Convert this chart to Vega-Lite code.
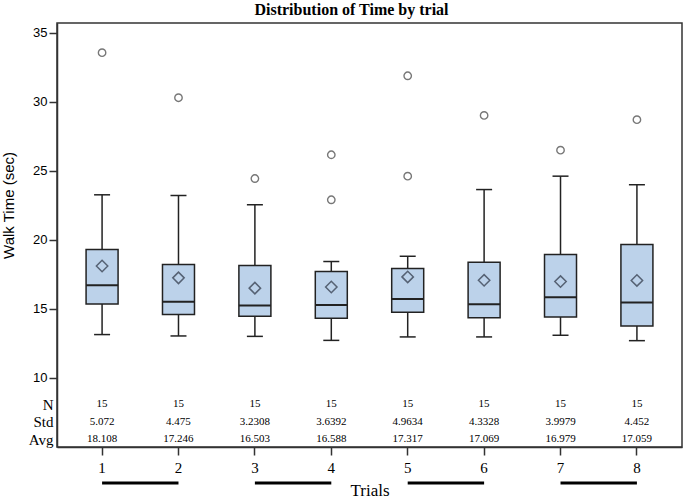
{
  "$schema": "https://vega.github.io/schema/vega-lite/v6.json",
  "autosize": {"type": "none"},
  "width": 625,
  "height": 424,
  "padding": {"left": 57, "top": 23, "right": 3, "bottom": 53},
  "background": "white",
  "title": {
    "text": "Distribution of Time by trial",
    "font": "Liberation Serif",
    "fontSize": 16,
    "fontWeight": "bold",
    "color": "#000",
    "anchor": "middle",
    "frame": "group",
    "baseline": "alphabetic",
    "offset": 11,
    "dy": 19,
    "dx": -18
  },
  "config": {
    "view": {"stroke": "#333", "strokeWidth": 1.5},
    "axis": {"domainColor": "#333", "domainWidth": 1.5, "tickColor": "#333", "tickWidth": 1.5, "grid": false, "labelColor": "#000", "titleColor": "#000"}
  },
  "datasets": {
    "stats": [
      {"trial": "1", "lower": 13.14, "q1": 15.36, "median": 16.71, "q3": 19.30, "upper": 23.26, "N": 15, "Std": 5.072, "Avg": 18.108},
      {"trial": "2", "lower": 13.04, "q1": 14.59, "median": 15.51, "q3": 18.21, "upper": 23.21, "N": 15, "Std": 4.475, "Avg": 17.246},
      {"trial": "3", "lower": 13.01, "q1": 14.46, "median": 15.24, "q3": 18.14, "upper": 22.54, "N": 15, "Std": 3.2308, "Avg": 16.503},
      {"trial": "4", "lower": 12.72, "q1": 14.32, "median": 15.29, "q3": 17.70, "upper": 18.43, "N": 15, "Std": 3.6392, "Avg": 16.588},
      {"trial": "5", "lower": 12.97, "q1": 14.75, "median": 15.72, "q3": 17.92, "upper": 18.81, "N": 15, "Std": 4.9634, "Avg": 17.317},
      {"trial": "6", "lower": 12.97, "q1": 14.35, "median": 15.33, "q3": 18.38, "upper": 23.64, "N": 15, "Std": 4.3328, "Avg": 17.069},
      {"trial": "7", "lower": 13.09, "q1": 14.42, "median": 15.84, "q3": 18.93, "upper": 24.61, "N": 15, "Std": 3.9979, "Avg": 16.979},
      {"trial": "8", "lower": 12.70, "q1": 13.77, "median": 15.46, "q3": 19.66, "upper": 23.99, "N": 15, "Std": 4.452, "Avg": 17.059}
    ],
    "outliers": [
      {"trial": "1", "time": 33.55},
      {"trial": "2", "time": 30.29},
      {"trial": "3", "time": 24.44},
      {"trial": "4", "time": 26.16},
      {"trial": "4", "time": 22.90},
      {"trial": "5", "time": 31.88},
      {"trial": "5", "time": 24.61},
      {"trial": "6", "time": 29.01},
      {"trial": "7", "time": 26.49},
      {"trial": "8", "time": 28.70}
    ],
    "pairs": [
      {"a": "1", "b": "2"},
      {"a": "3", "b": "4"},
      {"a": "5", "b": "6"},
      {"a": "7", "b": "8"}
    ]
  },
  "encoding": {
    "x": {
      "field": "trial",
      "type": "nominal",
      "scale": {"type": "band", "domain": ["1","2","3","4","5","6","7","8"], "paddingInner": 0, "paddingOuter": 0.09},
      "axis": {
        "title": "Trials",
        "labelAngle": 0,
        "tickSize": 8,
        "labelFont": "Liberation Serif",
        "labelFontSize": 15,
        "labelPadding": 5,
        "titleFont": "Liberation Serif",
        "titleFontSize": 17,
        "titleFontWeight": "normal",
        "titlePadding": 7
      }
    }
  },
  "layer": [
    {
      "data": {"name": "stats"},
      "encoding": {
        "y": {
          "type": "quantitative",
          "scale": {"domain": [5, 35.7], "nice": false, "zero": false},
          "axis": {
            "title": "Walk Time (sec)",
            "values": [10, 15, 20, 25, 30, 35],
            "tickSize": 8,
            "labelPadding": 2,
            "labelFont": "Liberation Sans",
            "labelFontSize": 13,
            "titleFont": "Liberation Sans",
            "titleFontSize": 15,
            "titleFontWeight": "normal",
            "titlePadding": 16,
            "titleY": 182
          }
        }
      },
      "layer": [
        {
          "mark": {"type": "rule", "color": "#222", "strokeWidth": 1.5},
          "encoding": {"y": {"field": "lower", "type": "quantitative"}, "y2": {"field": "upper"}}
        },
        {
          "mark": {"type": "bar", "size": 32, "fill": "#bcd2ea", "stroke": "#222", "strokeWidth": 1.5},
          "encoding": {"y": {"field": "q1", "type": "quantitative"}, "y2": {"field": "q3"}}
        },
        {
          "mark": {"type": "tick", "size": 16, "thickness": 1.5, "color": "#222", "opacity": 1},
          "encoding": {"y": {"field": "lower", "type": "quantitative"}}
        },
        {
          "mark": {"type": "tick", "size": 16, "thickness": 1.5, "color": "#222", "opacity": 1},
          "encoding": {"y": {"field": "upper", "type": "quantitative"}}
        },
        {
          "mark": {"type": "tick", "size": 32, "thickness": 2, "color": "#222", "opacity": 1},
          "encoding": {"y": {"field": "median", "type": "quantitative"}}
        },
        {
          "mark": {"type": "point", "shape": "diamond", "size": 130, "filled": false, "stroke": "#566274", "strokeWidth": 1.5, "opacity": 1},
          "encoding": {"y": {"field": "Avg", "type": "quantitative"}}
        },
        {
          "data": {"name": "outliers"},
          "mark": {"type": "point", "shape": "circle", "size": 55, "filled": false, "stroke": "#777", "strokeWidth": 1.4, "opacity": 1},
          "encoding": {"y": {"field": "time", "type": "quantitative"}}
        },
        {
          "data": {"name": "pairs"},
          "mark": {"type": "rule", "color": "#000", "strokeWidth": 3},
          "encoding": {
            "x": {"field": "a", "type": "nominal"},
            "x2": {"field": "b"},
            "y": {"datum": 2.4, "type": "quantitative"}
          }
        }
      ]
    },
    {
      "data": {"name": "stats"},
      "transform": [{"fold": ["N", "Std", "Avg"], "as": ["stat", "value"]}],
      "mark": {"type": "text", "font": "Liberation Serif", "fontSize": 11, "color": "#000"},
      "encoding": {
        "y": {
          "field": "stat",
          "type": "ordinal",
          "scale": {"type": "point", "domain": ["N", "Std", "Avg"], "padding": 0, "range": [381, 416]},
          "axis": {
            "orient": "left",
            "title": null,
            "ticks": false,
            "domain": false,
            "labelPadding": 4,
            "labelFont": "Liberation Serif",
            "labelFontSize": 15
          }
        },
        "text": {"field": "value", "type": "nominal"}
      }
    }
  ],
  "resolve": {"scale": {"y": "independent"}, "axis": {"y": "independent"}}
}
